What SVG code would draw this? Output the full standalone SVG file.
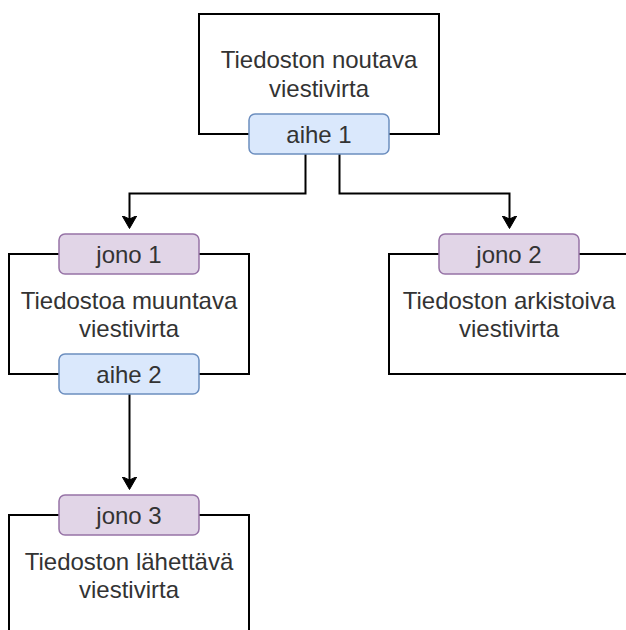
<svg xmlns="http://www.w3.org/2000/svg" width="626" height="630" viewBox="0 0 626 630">
  <style>
    .box { fill: #ffffff; stroke: #000000; stroke-width: 2; }
    .topic { fill: #dae8fc; stroke: #6c8ebf; stroke-width: 1.5; }
    .queue { fill: #e1d5e7; stroke: #9673a6; stroke-width: 1.5; }
    .txt { font-family: "Liberation Sans", Arial, Helvetica, sans-serif; font-size: 24px; fill: #333333; text-anchor: middle; }
    .edge { fill: none; stroke: #000000; stroke-width: 2; }
  </style>
  <defs>
    <marker id="arrow" markerUnits="userSpaceOnUse" viewBox="0 -8 14 16" refX="3.5" refY="0" markerWidth="14" markerHeight="16" orient="auto">
      <path d="M0,-7.5 L13,0 L0,7.5 L3.5,0 Z" fill="#000000" stroke="#000000" stroke-width="1"/>
    </marker>
  </defs>

  <rect width="626" height="630" fill="#ffffff"/>

  <!-- connectors -->
  <g id="connectors">
    <path class="edge" d="M305.5,154 V193.5 H129.5 V219" marker-end="url(#arrow)"/>
    <path class="edge" d="M339.5,154 V193.5 H509.5 V219" marker-end="url(#arrow)"/>
    <path class="edge" d="M129.5,394 V480" marker-end="url(#arrow)"/>
  </g>

  <!-- fetching stream with its topic -->
  <g id="noutava">
    <rect class="box" x="199" y="14" width="240" height="120"/>
    <text class="txt" x="319" y="68">Tiedoston noutava</text>
    <text class="txt" x="319" y="97">viestivirta</text>
  </g>
  <g id="aihe1">
    <rect class="topic" x="249" y="114" width="140" height="40" rx="6" ry="6"/>
    <text class="txt" x="319" y="142.5">aihe 1</text>
  </g>

  <!-- transforming stream -->
  <g id="muuntava">
    <rect class="box" x="9" y="254" width="240" height="120"/>
    <text class="txt" x="129" y="309">Tiedostoa muuntava</text>
    <text class="txt" x="129" y="337">viestivirta</text>
  </g>
  <g id="jono1">
    <rect class="queue" x="59" y="234" width="140" height="40" rx="6" ry="6"/>
    <text class="txt" x="129" y="262.5">jono 1</text>
  </g>
  <g id="aihe2">
    <rect class="topic" x="59" y="354" width="140" height="40" rx="6" ry="6"/>
    <text class="txt" x="129" y="382.5">aihe 2</text>
  </g>

  <!-- archiving stream -->
  <g id="arkistoiva">
    <rect class="box" x="389" y="254" width="240" height="120"/>
    <text class="txt" x="509" y="309">Tiedoston arkistoiva</text>
    <text class="txt" x="509" y="337">viestivirta</text>
  </g>
  <g id="jono2">
    <rect class="queue" x="439" y="234" width="140" height="40" rx="6" ry="6"/>
    <text class="txt" x="509" y="262.5">jono 2</text>
  </g>

  <!-- sending stream -->
  <g id="lahettava">
    <rect class="box" x="9" y="515" width="240" height="120"/>
    <text class="txt" x="129" y="570">Tiedoston lähettävä</text>
    <text class="txt" x="129" y="598">viestivirta</text>
  </g>
  <g id="jono3">
    <rect class="queue" x="59" y="495" width="140" height="40" rx="6" ry="6"/>
    <text class="txt" x="129" y="523.5">jono 3</text>
  </g>
</svg>
